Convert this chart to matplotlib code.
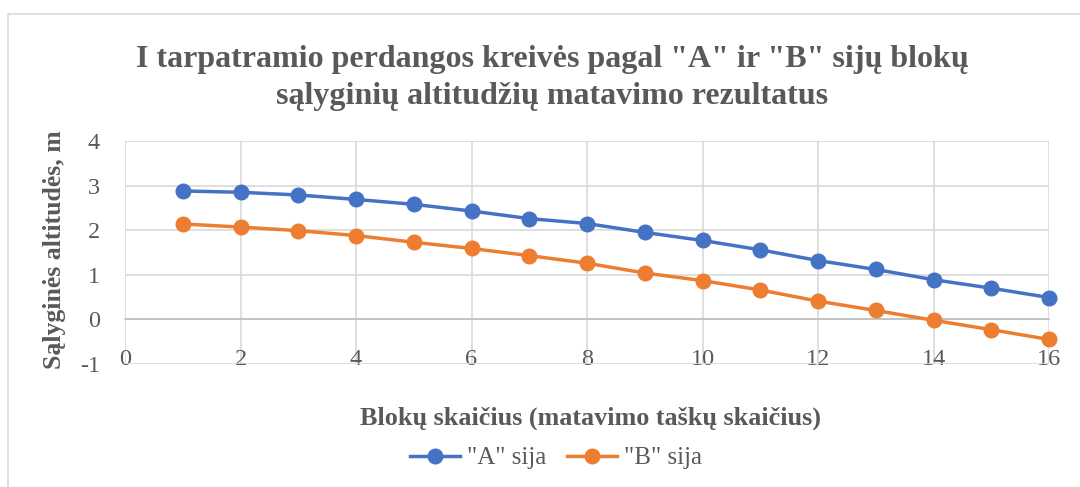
import matplotlib
matplotlib.use("Agg")
import matplotlib.pyplot as plt
from matplotlib.patches import Rectangle

plt.rcParams['font.family'] = ['Liberation Serif', 'DejaVu Serif']
plt.rcParams['axes.unicode_minus'] = False

blocks = list(range(1, 17))
sija_a = [2.88, 2.85, 2.79, 2.69, 2.58, 2.43, 2.26, 2.15, 1.95, 1.77, 1.56, 1.32, 1.12, 0.89, 0.70, 0.49]
sija_b = [2.14, 2.07, 1.99, 1.88, 1.73, 1.59, 1.43, 1.26, 1.04, 0.87, 0.66, 0.41, 0.20, -0.02, -0.23, -0.45]
x_ticks = [0, 2, 4, 6, 8, 10, 12, 14, 16]
y_ticks = [-1, 0, 1, 2, 3, 4]

title = 'I tarpatramio perdangos kreivės pagal "A" ir "B" sijų blokų\nsąlyginių altitudžių matavimo rezultatus'
xlabel = 'Blokų skaičius (matavimo taškų skaičius)'
ylabel = 'Sąlyginės altitudės, m'

W, H = 1080, 487
fig = plt.figure(figsize=(W / 100, H / 100), dpi=100)
ax = fig.add_axes([125 / W, 1 - 364 / H, (1049 - 125) / W, (364 - 141) / H])

grid_c = '#d9d9d9'
txt_c = '#595959'

ax.plot(blocks, sija_a, color='#4472C4', lw=2.5, marker='o', ms=10.5, label='"A" sija', zorder=3, clip_on=False)
ax.plot(blocks, sija_b, color='#ED7D31', lw=2.5, marker='o', ms=10.5, label='"B" sija', zorder=3, clip_on=False)

ax.set_xlim(0, 16)
ax.set_ylim(-1, 4)
ax.set_xticks(x_ticks)
ax.set_yticks(y_ticks)
ax.grid(True, color=grid_c, lw=1.2)
ax.set_axisbelow(True)
for s in ['top', 'right', 'left']:
    ax.spines[s].set_visible(False)
ax.spines['bottom'].set_position(('data', 0))
ax.spines['bottom'].set_color('#bfbfbf')
ax.spines['bottom'].set_linewidth(1.2)
ax.tick_params(axis='both', length=0, labelsize=17.5, colors=txt_c)
ax.tick_params(axis='x', pad=21)
ax.tick_params(axis='y', pad=18)

fig.text(552 / W, 1 - 78 / H, title, ha='center', va='center',
         fontsize=23, fontweight='bold', color=txt_c, linespacing=1.38)
fig.text(55 / W, 1 - 250 / H, ylabel, rotation=90, ha='center', va='center',
         fontsize=18.5, fontweight='bold', color=txt_c)
fig.text(590 / W, 1 - 418 / H, xlabel, ha='center', va='center',
         fontsize=18.8, fontweight='bold', color=txt_c)

leg = fig.legend(loc='center', bbox_to_anchor=(556 / W, 1 - 458 / H), ncol=2, frameon=False,
                 fontsize=18, handlelength=2.0, columnspacing=0.8, handletextpad=0.3)
for t in leg.get_texts():
    t.set_color(txt_c)

fig.patches.append(Rectangle((8 / W, -0.1), 1.2, 1 - 14 / H + 0.1, transform=fig.transFigure,
                             fill=False, edgecolor=grid_c, lw=1.2, zorder=0))

fig.savefig('out.png', dpi=100, facecolor='white')
